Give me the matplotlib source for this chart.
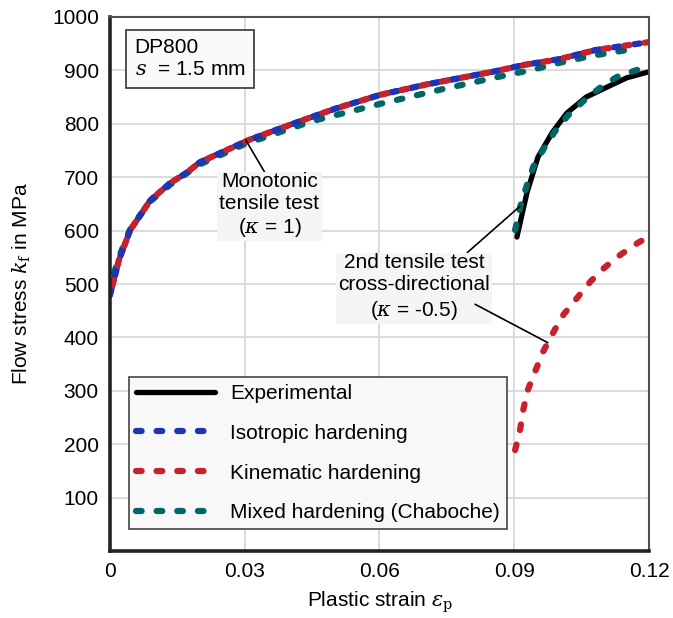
import matplotlib
matplotlib.use('Agg')
import matplotlib.pyplot as plt
from matplotlib.lines import Line2D
import numpy as np

plt.rcParams['font.family'] = ['Liberation Sans', 'DejaVu Sans']
plt.rcParams['mathtext.fontset'] = 'dejavuserif'

# monotonic tensile test
mono_x = [0, 0.002, 0.0045, 0.009, 0.0134, 0.017, 0.02, 0.026, 0.031, 0.04, 0.05, 0.06, 0.07, 0.085, 0.092, 0.1, 0.108, 0.12]
mono_y = [479, 545, 601, 657, 689, 708, 728, 751, 770, 798, 828, 854, 873, 897, 910, 921, 938, 953]
exp_mono_end = 0.11
mixed_mono_x = [0, 0.002, 0.0045, 0.009, 0.0134, 0.02, 0.03, 0.045, 0.059, 0.073, 0.08, 0.087, 0.0935, 0.1, 0.107, 0.115]
mixed_mono_y = [495, 550, 603, 655, 686, 724, 762, 805, 835, 863, 876, 889, 900, 914, 927, 938]

# 2nd tensile test, cross-directional
exp2_x = [0.0906, 0.0928, 0.0953, 0.0984, 0.1017, 0.106, 0.1107, 0.115, 0.1198]
exp2_y = [588, 670, 738, 783, 820, 850, 869, 886, 897]
kin2_x = [0.0902, 0.0913, 0.092, 0.093, 0.0946, 0.0964, 0.0986, 0.1009, 0.104, 0.1069, 0.110, 0.1135, 0.1175, 0.119]
kin2_y = [189, 227, 264, 301, 335, 373, 408, 442, 474, 504, 530, 554, 577, 584]
mix2_x = [0.0902, 0.0913, 0.0928, 0.0942, 0.0964, 0.099, 0.102, 0.1057, 0.109, 0.1129, 0.1173, 0.119]
mix2_y = [601, 644, 685, 719, 751, 785, 816, 845, 867, 888, 901, 904]

labels = ['Experimental', 'Isotropic hardening', 'Kinematic hardening', 'Mixed hardening (Chaboche)']
colors = ['black', '#1f33b5', '#c8202c', '#006666']


def smooth(xs, ys, x0=None, x1=None, n=300):
    xs = np.array(xs); ys = np.array(ys)
    x0 = xs[0] if x0 is None else x0
    x1 = xs[-1] if x1 is None else x1
    xn = np.linspace(x0, x1, n)
    return xn, np.interp(xn, xs, ys)


fig = plt.figure(figsize=(6.73, 6.18), dpi=100)
ax = fig.add_axes([0.1634, 0.1084, 0.8009, 0.8641])

fs = 15
lw = 4.5
dash = (0.9, 2.4)
kw = dict(solid_capstyle='round', dash_capstyle='round')

# experimental
x, y = smooth(mono_x, mono_y, 0, exp_mono_end)
ax.plot(x, y, color=colors[0], lw=3.8, **kw)
x, y = smooth(exp2_x, exp2_y)
ax.plot(x, y, color=colors[0], lw=3.8, **kw)

# mixed
x, y = smooth(mixed_mono_x, mixed_mono_y)
ax.plot(x, y, color=colors[3], lw=lw, ls=(1.0, dash), **kw)
x, y = smooth(mix2_x, mix2_y)
ax.plot(x, y, color=colors[3], lw=lw, ls=(0, dash), **kw)

# isotropic
x, y = smooth(mono_x, mono_y)
ax.plot(x, y, color=colors[1], lw=lw, ls=(0, dash), **kw)
# kinematic
ax.plot(x, y, color=colors[2], lw=lw, ls=(1.65, dash), **kw)
x, y = smooth(kin2_x, kin2_y)
ax.plot(x, y, color=colors[2], lw=lw, ls=(0, dash), **kw)

handles = [Line2D([], [], color=colors[0], lw=3.8, **kw)]
for c in colors[1:]:
    handles.append(Line2D([], [], color=c, lw=lw, ls=(0, dash), **kw))

ax.set_xlim(0, 0.12)
ax.set_ylim(0, 1000)
ax.set_xticks([0, 0.03, 0.06, 0.09, 0.12])
ax.set_xticklabels(['0', '0.03', '0.06', '0.09', '0.12'])
ax.set_yticks(range(100, 1001, 100))
ax.tick_params(length=0, labelsize=fs, pad=8)
ax.grid(True, color='#d8d8d8', lw=1.3)
ax.set_axisbelow(True)
for s in ['left', 'bottom']:
    ax.spines[s].set_linewidth(2.6)
    ax.spines[s].set_color('#222222')
for s in ['top', 'right']:
    ax.spines[s].set_linewidth(1.5)
    ax.spines[s].set_color('#505050')

ax.set_xlabel(r'Plastic strain $\varepsilon_\mathrm{p}$', fontsize=fs, labelpad=6)
ax.set_ylabel(r'Flow stress $k_\mathrm{f}$ in MPa', fontsize=fs, labelpad=14)

leg = ax.legend(handles, labels, loc='lower left', bbox_to_anchor=(0.035, 0.041), fontsize=fs,
                handlelength=3.8, handletextpad=0.75, labelspacing=1.0, borderpad=0.32,
                borderaxespad=0, fancybox=False, framealpha=1)
leg.get_frame().set_facecolor('#f8f8f8')
leg.get_frame().set_edgecolor('#444444')
leg.get_frame().set_linewidth(1.2)
leg.set_zorder(1.5)

ax.text(0.0055, 960, 'DP800\n$s$  = 1.5 mm', fontsize=fs, va='top', ha='left',
        linespacing=1.2,
        bbox=dict(boxstyle='square,pad=0.4', facecolor='#fafafa', edgecolor='#333333', lw=1.2))

ax.annotate('Monotonic\ntensile test\n($\\kappa$ = 1)', xy=(0.0302, 770), xytext=(0.0355, 647),
            fontsize=fs, ha='center', va='center', linespacing=1.2,
            bbox=dict(boxstyle='square,pad=0.1', facecolor='#f5f5f5', edgecolor='none'),
            arrowprops=dict(arrowstyle='-', color='black', lw=1.2, shrinkA=0, shrinkB=0,
                            relpos=(0.45, 1.0)))

ax.annotate('2nd tensile test\ncross-directional\n($\\kappa$ = -0.5)', xy=(0.0912, 645),
            xytext=(0.0677, 494), fontsize=fs, ha='center', va='center', linespacing=1.25,
            bbox=dict(boxstyle='square,pad=0.1', facecolor='#f5f5f5', edgecolor='none'),
            arrowprops=dict(arrowstyle='-', color='black', lw=1.2, shrinkA=0, shrinkB=0,
                            relpos=(0.85, 1.0)))
ax.annotate('', xy=(0.0975, 390), xytext=(0.0813, 462),
            arrowprops=dict(arrowstyle='-', color='black', lw=1.2, shrinkA=0, shrinkB=0))

fig.savefig('out.png', dpi=100)
